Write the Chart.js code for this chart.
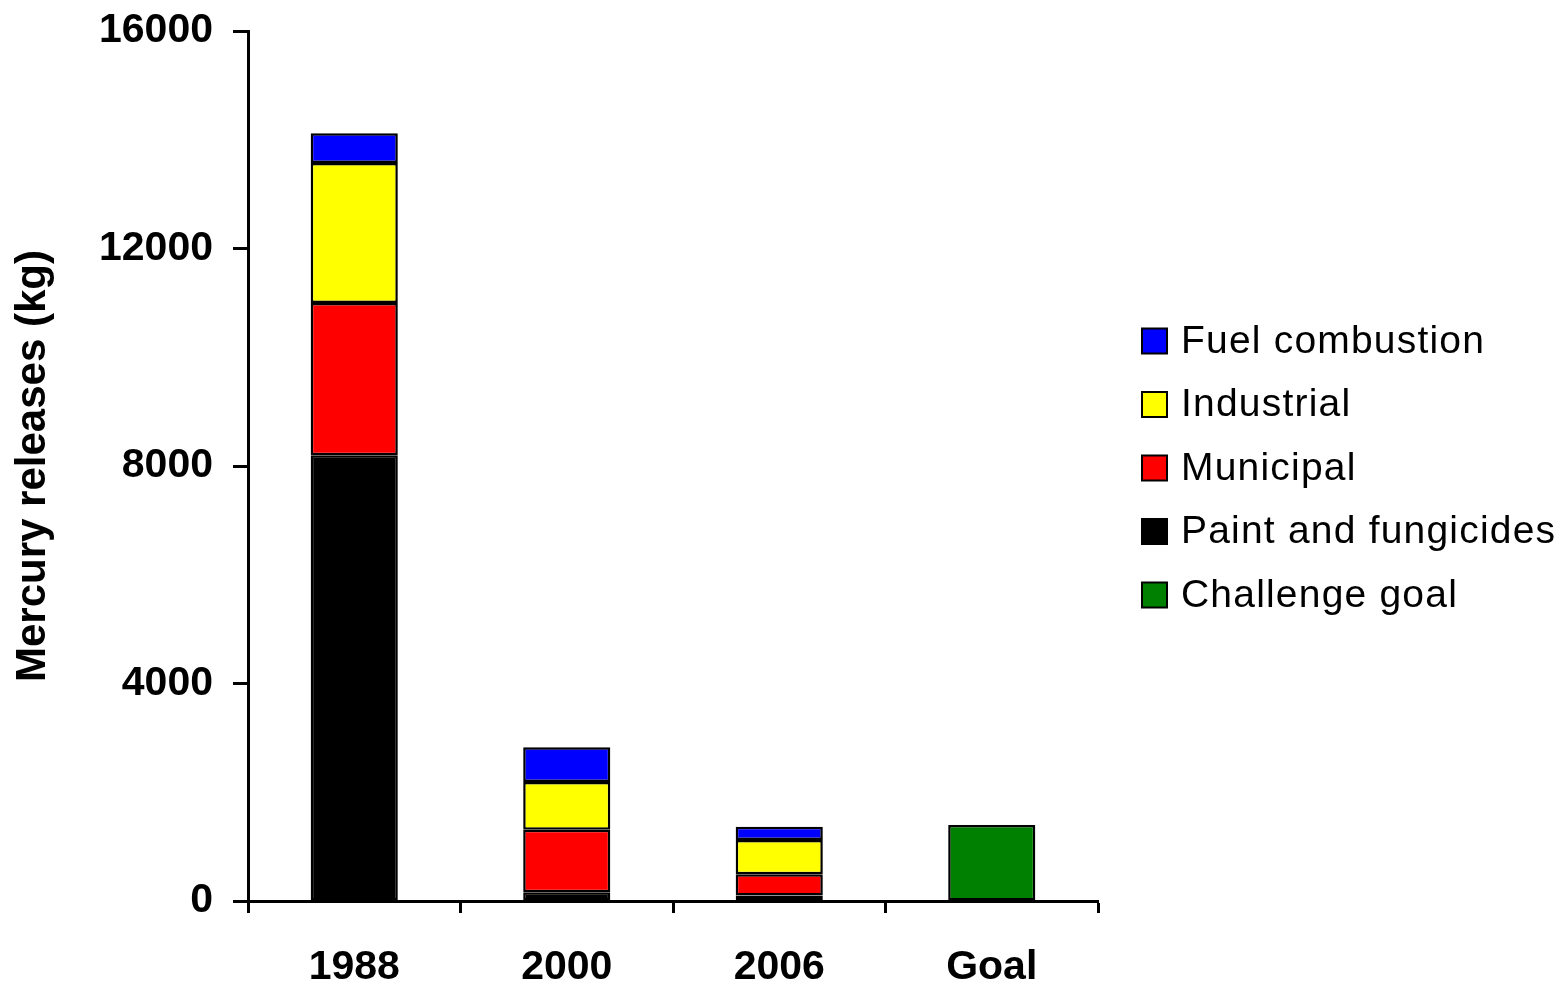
<!DOCTYPE html>
<html>
<head>
<meta charset="utf-8">
<script src="https://cdn.jsdelivr.net/npm/chart.js@4"></script>
<style>
  html, body { margin: 0; padding: 0; background: #fff; }
  #wrap { width: 1562px; height: 984px; }
</style>
</head>
<body>
<div id="wrap"><canvas id="mercuryChart"></canvas></div>
<script>
const categories = ['1988', '2000', '2006', 'Goal'];
const paintFungicides = [8200, 160, 100, null];
const municipal = [2800, 1150, 390, null];
const industrial = [2575, 877, 630, null];
const fuelCombustion = [545, 640, 245, null];
const challengeGoal = [null, null, null, 1400];
const yTicks = [0, 4000, 8000, 12000, 16000];

const FONT = '"Liberation Sans", Arial, sans-serif';

function bar(label, data, color) {
  return {
    label: label,
    data: data,
    backgroundColor: color,
    borderColor: '#000',
    borderWidth: 2.5,
    borderSkipped: false,
    stack: 'all',
    barPercentage: 0.41,
    categoryPercentage: 1
  };
}

// legend drawn in the right padding, built from the datasets (top of stack first)
const sideLegend = {
  id: 'sideLegend',
  afterDraw(chart) {
    const ctx = chart.ctx;
    const items = chart.data.datasets.slice().reverse();
    ctx.save();
    ctx.font = '39px ' + FONT;
    ctx.letterSpacing = '1.2px';
    ctx.textBaseline = 'middle';
    ctx.textAlign = 'left';
    items.forEach((ds, i) => {
      const y = 341 + i * 63.5;
      ctx.fillStyle = ds.backgroundColor;
      ctx.fillRect(1142, y - 12.5, 25, 25);
      ctx.lineWidth = 2;
      ctx.strokeStyle = '#000';
      ctx.strokeRect(1142, y - 12.5, 25, 25);
      ctx.fillStyle = '#000';
      ctx.fillText(ds.label, 1181, y + 1);
    });
    ctx.restore();
  }
};

new Chart(document.getElementById('mercuryChart'), {
  type: 'bar',
  data: {
    labels: categories,
    datasets: [
      bar('Challenge goal', challengeGoal, '#008000'),
      bar('Paint and fungicides', paintFungicides, '#000000'),
      bar('Municipal', municipal, '#ff0000'),
      bar('Industrial', industrial, '#ffff00'),
      bar('Fuel combustion', fuelCombustion, '#0000ff')
    ]
  },
  options: {
    responsive: true,
    maintainAspectRatio: false,
    animation: false,
    layout: { padding: { top: 0, left: 0, right: 464, bottom: 0 } },
    plugins: {
      tooltip: { enabled: false },
      legend: { display: false }
    },
    scales: {
      x: {
        stacked: true,
        grid: {
          offset: true,
          drawOnChartArea: false,
          drawTicks: true,
          tickLength: 12,
          tickColor: '#000',
          tickWidth: 3
        },
        border: { color: '#000', width: 3 },
        ticks: {
          color: '#000',
          font: { family: FONT, size: 41, weight: 'bold' },
          padding: 30
        },
        afterFit: s => { s.height = 83; }
      },
      y: {
        stacked: true,
        min: 0,
        max: 16000,
        afterBuildTicks: s => { s.ticks = yTicks.map(v => ({ value: v })); },
        grid: {
          drawOnChartArea: false,
          drawTicks: true,
          tickLength: 15,
          tickColor: '#000',
          tickWidth: 3
        },
        border: { color: '#000', width: 3 },
        ticks: {
          color: '#000',
          font: { family: FONT, size: 41, weight: 'bold', lineHeight: 0.54 },
          padding: 20,
          callback: v => String(v)
        },
        title: {
          display: true,
          text: 'Mercury releases (kg)',
          color: '#000',
          font: { family: FONT, size: 42, weight: 'bold' },
          padding: { top: 8, bottom: 0 }
        },
        afterFit: s => { s.width = 248; }
      }
    }
  },
  plugins: [sideLegend]
});
</script>
</body>
</html>
